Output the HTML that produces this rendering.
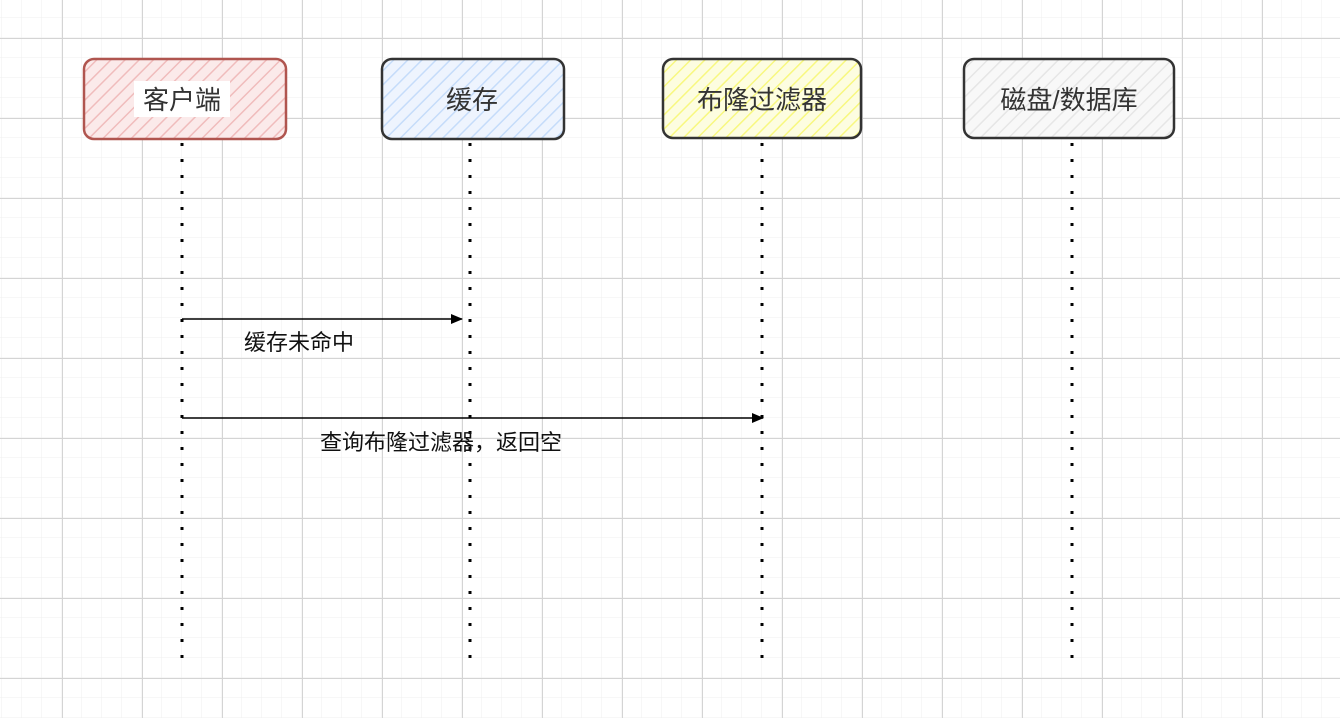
<!DOCTYPE html>
<html><head><meta charset="utf-8"><style>
html,body{margin:0;padding:0;}
body{width:1340px;height:718px;overflow:hidden;background:#fff;font-family:"Liberation Sans","Noto Sans CJK SC",sans-serif;}
</style></head><body>
<svg width="1340" height="718" xmlns="http://www.w3.org/2000/svg">
<defs>
<pattern id="minor" width="20" height="20" patternUnits="userSpaceOnUse" x="2" y="-2">
<path d="M20 0V20M0 20H20" stroke="#efefef" stroke-width="1" fill="none"/>
</pattern>
<pattern id="major" width="80" height="80" patternUnits="userSpaceOnUse" x="62" y="38">
<path d="M0.5 0V80M0 0.5H80" stroke="#d4d4d4" stroke-width="1" fill="none"/>
</pattern>
<pattern id="hr" width="10" height="10" patternUnits="userSpaceOnUse" patternTransform="rotate(-45)">
<rect width="10" height="10" fill="#fbeaea"/><line x1="0" y1="0" x2="10" y2="0" stroke="#f0bcbc" stroke-width="3"/></pattern>
<pattern id="hb" width="10" height="10" patternUnits="userSpaceOnUse" patternTransform="rotate(-45)">
<rect width="10" height="10" fill="#eef4fe"/><line x1="0" y1="0" x2="10" y2="0" stroke="#c5dcfa" stroke-width="3"/></pattern>
<pattern id="hy" width="10" height="10" patternUnits="userSpaceOnUse" patternTransform="rotate(-45)">
<rect width="10" height="10" fill="#fdfde0"/><line x1="0" y1="0" x2="10" y2="0" stroke="#f8f880" stroke-width="3"/></pattern>
<pattern id="hg" width="10" height="10" patternUnits="userSpaceOnUse" patternTransform="rotate(-45)">
<rect width="10" height="10" fill="#f8f8f8"/><line x1="0" y1="0" x2="10" y2="0" stroke="#e6e6e6" stroke-width="3"/></pattern>
<marker id="ar" markerWidth="12" markerHeight="10" refX="11" refY="5" orient="auto" markerUnits="userSpaceOnUse">
<path d="M0 0L12 5L0 10Z" fill="#000"/></marker>
</defs>
<rect width="1340" height="718" fill="url(#minor)"/>
<rect width="1340" height="718" fill="url(#major)"/>

<rect x="84" y="59" width="202" height="80" rx="10" fill="url(#hr)" stroke="#b0554f" stroke-width="2.5"/>
<rect x="382" y="59" width="182" height="80" rx="10" fill="url(#hb)" stroke="#333" stroke-width="2.5"/>
<rect x="663" y="59" width="198" height="79" rx="10" fill="url(#hy)" stroke="#333" stroke-width="2.5"/>
<rect x="964" y="59" width="210" height="79" rx="10" fill="url(#hg)" stroke="#333" stroke-width="2.5"/>

<g font-size="26" fill="#333" text-anchor="middle">
<rect x="134" y="81" width="96" height="36" fill="#fff"/>
<text x="182" y="109">客户端</text>
<text x="472" y="109">缓存</text>
<text x="762" y="109">布隆过滤器</text>
<text x="1069" y="109">磁盘/数据库</text>
</g>

<g stroke="#000" stroke-width="3" stroke-dasharray="3 13">
<line x1="182" y1="143" x2="182" y2="660"/>
<line x1="470" y1="143" x2="470" y2="660"/>
<line x1="762" y1="143" x2="762" y2="660"/>
<line x1="1072" y1="143" x2="1072" y2="660"/>
</g>

<line x1="182" y1="319" x2="462" y2="319" stroke="#000" stroke-width="1.5" marker-end="url(#ar)"/>
<line x1="182" y1="418" x2="763" y2="418" stroke="#000" stroke-width="1.5" marker-end="url(#ar)"/>
<g font-size="22" fill="#111">
<text x="244" y="350">缓存未命中</text>
<text x="320" y="450">查询布隆过滤器，返回空</text>
</g>
</svg>
</body></html>
